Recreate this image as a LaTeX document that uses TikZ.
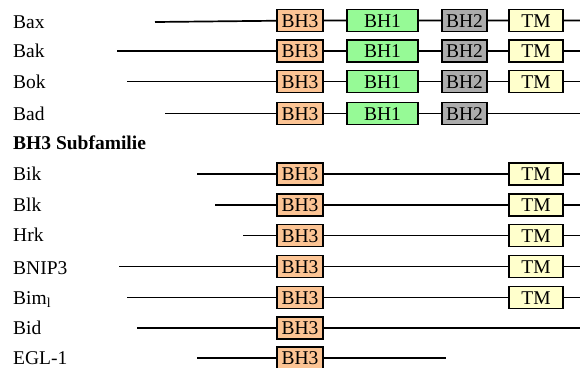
\documentclass[tikz,border=0pt]{standalone}
\usepackage{fontspec}
\setmainfont{Liberation Serif}
\definecolor{bhthreefill}{RGB}{252,196,148}
\definecolor{bhonefill}{RGB}{150,250,150}
\definecolor{bhtwofill}{RGB}{172,172,172}
\definecolor{tmfill}{RGB}{255,255,204}
\tikzset{
  dom/.style={draw=black, line width=1.5pt, inner sep=0pt, minimum height=22pt,
    text height=13pt, text depth=0pt, font=\fontsize{19.5}{22}\selectfont},
  bhthree/.style={dom, fill=bhthreefill, minimum width=46pt},
  bhone/.style={dom, fill=bhonefill, minimum width=71pt},
  bhtwo/.style={dom, fill=bhtwofill, minimum width=45pt},
  tmbox/.style={dom, fill=tmfill, minimum width=54pt},
  lbl/.style={anchor=base west, inner sep=0pt, font=\fontsize{19.5}{22}\selectfont},
  chain/.style={line width=1.7pt}
}
\begin{document}
\begin{tikzpicture}[x=1pt, y=-1pt]
\useasboundingbox (0,0) rectangle (580,367);

% --- Bcl-2 family members with BH1/BH2 ---
% Bax
\node[lbl] (lbax) at (13,28.3) {Bax};
\node[bhthree] (bax3) at (300,20.5) {BH3};
\node[bhone] (bax1) at (382.5,20.5) {BH1};
\node[bhtwo] (bax2) at (464.5,20.5) {BH2};
\node[tmbox] (baxt) at (536,20.5) {TM};
\coordinate (baxs) at (155,22);
\coordinate (baxe) at (580,20.5);
\draw[chain] (baxs) -- (bax3) (bax3) -- (bax1) (bax1) -- (bax2) (bax2) -- (baxt) (baxt) -- (baxe);

% Bak
\node[lbl] (lbak) at (13,57.7) {Bak};
\node[bhthree] (bak3) at (300,51) {BH3};
\node[bhone] (bak1) at (382.5,51) {BH1};
\node[bhtwo] (bak2) at (464.5,51) {BH2};
\node[tmbox] (bakt) at (536,51) {TM};
\coordinate (baks) at (117,51);
\coordinate (bake) at (580,51);
\draw[chain] (baks) -- (bak3) (bak3) -- (bak1) (bak1) -- (bak2) (bak2) -- (bakt) (bakt) -- (bake);

% Bok
\node[lbl] (lbok) at (13,88.3) {Bok};
\node[bhthree] (bok3) at (300,81.5) {BH3};
\node[bhone] (bok1) at (382.5,81.5) {BH1};
\node[bhtwo] (bok2) at (464.5,81.5) {BH2};
\node[tmbox] (bokt) at (536,81.5) {TM};
\coordinate (boks) at (127,81.5);
\coordinate (boke) at (580,81.5);
\draw[chain] (boks) -- (bok3) (bok3) -- (bok1) (bok1) -- (bok2) (bok2) -- (bokt) (bokt) -- (boke);

% Bad
\node[lbl] (lbad) at (13,120) {Bad};
\node[bhthree] (bad3) at (300,113.5) {BH3};
\node[bhone] (bad1) at (382.5,113.5) {BH1};
\node[bhtwo] (bad2) at (464.5,113.5) {BH2};
\coordinate (bads) at (165,113.5);
\coordinate (bade) at (580,113.5);
\draw[chain] (bads) -- (bad3) (bad3) -- (bad1) (bad1) -- (bad2) (bad2) -- (bade);

% --- BH3-only subfamily ---
\node[lbl, font=\fontsize{19.5}{22}\selectfont\bfseries] (lsub) at (13,149.3) {BH3 Subfamilie};

% Bik
\node[lbl] (lbik) at (13,180) {Bik};
\node[bhthree] (bik3) at (300,174) {BH3};
\node[tmbox] (bikt) at (536,174) {TM};
\coordinate (biks) at (197,174);
\coordinate (bike) at (580,174);
\draw[chain] (biks) -- (bik3) (bik3) -- (bikt) (bikt) -- (bike);

% Blk
\node[lbl] (lblk) at (13,211.7) {Blk};
\node[bhthree] (blk3) at (300,205) {BH3};
\node[tmbox] (blkt) at (536,205) {TM};
\coordinate (blks) at (215,205);
\coordinate (blke) at (580,205);
\draw[chain] (blks) -- (blk3) (blk3) -- (blkt) (blkt) -- (blke);

% Hrk
\node[lbl] (lhrk) at (13,241.7) {Hrk};
\node[bhthree] (hrk3) at (300,235.5) {BH3};
\node[tmbox] (hrkt) at (536,235.5) {TM};
\coordinate (hrks) at (243,235.5);
\coordinate (hrke) at (580,235.5);
\draw[chain] (hrks) -- (hrk3) (hrk3) -- (hrkt) (hrkt) -- (hrke);

% BNIP3
\node[lbl] (lbnip) at (13,274) {BNIP3};
\node[bhthree] (bnip3) at (300,266.5) {BH3};
\node[tmbox] (bnipt) at (536,266.5) {TM};
\coordinate (bnips) at (119,266.5);
\coordinate (bnipe) at (580,266.5);
\draw[chain] (bnips) -- (bnip3) (bnip3) -- (bnipt) (bnipt) -- (bnipe);

% Bim_l
\node[lbl] (lbim) at (13,304) {Bim\textsubscript{l}};
\node[bhthree] (bim3) at (300,297.5) {BH3};
\node[tmbox] (bimt) at (536,297.5) {TM};
\coordinate (bims) at (127,297.5);
\coordinate (bime) at (580,297.5);
\draw[chain] (bims) -- (bim3) (bim3) -- (bimt) (bimt) -- (bime);

% Bid
\node[lbl] (lbid) at (13,334) {Bid};
\node[bhthree] (bid3) at (300,328) {BH3};
\coordinate (bids) at (137,328);
\coordinate (bide) at (580,328);
\draw[chain] (bids) -- (bid3) (bid3) -- (bide);

% EGL-1
\node[lbl] (legl) at (13,364.5) {EGL-1};
\node[bhthree] (egl3) at (300,358) {BH3};
\coordinate (egls) at (197,358);
\coordinate (egle) at (446,358);
\draw[chain] (egls) -- (egl3) (egl3) -- (egle);
\end{tikzpicture}
\end{document}
